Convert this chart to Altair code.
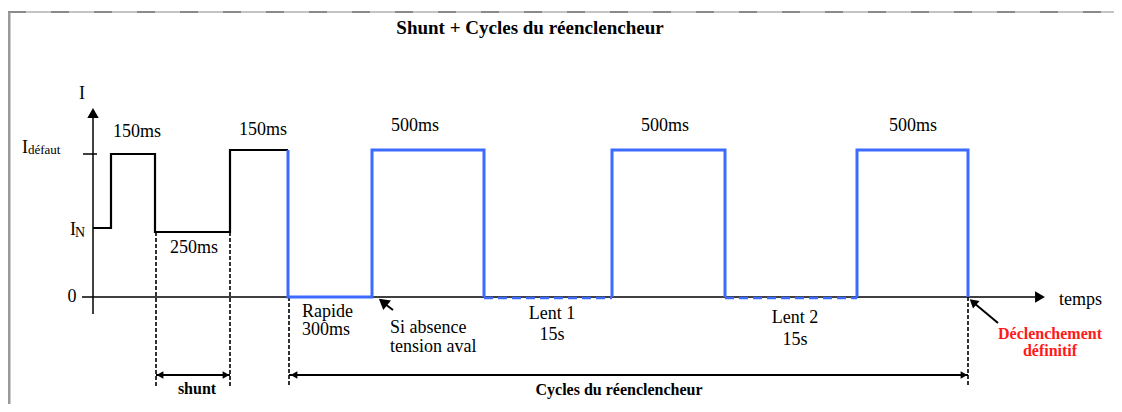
import altair as alt
import pandas as pd

# ---- schematic data (time units along x, current level along y; origin = axes crossing) ----
# black part: normal current, first shunt fault, shunt pause, second fault
black_t = [0, 18, 18, 62, 62, 137, 137, 195]
black_i = [69, 69, 143, 143, 65, 65, 147, 147]
# blue part: recloser cycles (three solid segments)
blue_seg = ["A"] * 6 + ["B"] * 4 + ["C"] * 4
blue_t = [195, 195, 279, 279, 391, 391, 519, 519, 632, 632, 764, 764, 875, 875]
blue_i = [147, 0, 0, 147, 147, 0, 0, 147, 147, 0, 0, 147, 147, 0]
# blue dashed "slow" waits
slow_t0 = [391, 632]
slow_t1 = [519, 764]

# axes
axis_x0 = [0, -11, -10]
axis_y0 = [-17, 0, 143]
axis_x1 = [0, 942, 4]
axis_y1 = [185, 0, 143]

# dotted verticals
vline_t = [63, 137, 196, 875]
vline_top = [65, 65, 0, 0]
vline_bot = [-89, -89, -90, -90]

# arrow shafts
shaft_x0 = [196, 63, 300, 905]
shaft_y0 = [-78, -78, -13, -26]
shaft_x1 = [875, 137, 292, 881]
shaft_y1 = [-78, -78, -7, -6]

# arrow heads
head_x = [0, 947, 201, 871, 67, 133, 290, 880]
head_y = [184, 0, -78, -78, -78, -78, -5, -5]
head_angle = [0, 90, 270, 90, 270, 90, 309, 311]
head_size = [130, 130, 60, 60, 60, 60, 150, 100]

# labels
center_text = ["I", "150ms", "150ms", "250ms", "500ms", "500ms", "500ms",
               "Lent 1", "15s", "Lent 2", "15s", "0"]
center_x = [-11, 44, 170, 101, 322, 572, 820, 459, 459, 702, 702, -21]
center_y = [198, 160, 162, 44, 166, 166, 166, -22, -43, -26, -48, -5]

left_text = ["Rapide", "300ms", "Si absence", "tension aval", "temps", "I", "I"]
left_x = [209, 209, 297, 297, 966, -71, -23]
left_y = [-20, -38, -36, -55, -8, 144, 62]

sub_text = ["défaut", "N"]
sub_x = [-65, -18]
sub_y = [143, 60]
sub_size = [13, 14]

bold_text = ["shunt", "Cycles du réenclencheur"]
bold_x = [104, 526]
bold_y = [-97, -98]

red_text = ["Déclenchement", "définitif"]
red_x = [957, 957]
red_y = [-42, -59]

title_text = ["Shunt + Cycles du réenclencheur"]
title_x = [437]
title_y = [263]

# frame
frame_top_y = 285
frame_left_x = -84

# ---- build ----
W, H = 1106, 396
xs = alt.Scale(domain=[-85, 1021], nice=False, zero=False)
ys = alt.Scale(domain=[-107, 289], nice=False, zero=False)
FONT = "Liberation Serif"
BLUE = "#3D6BFF"


def X(f="x"):
    return alt.X(f"{f}:Q", scale=xs, axis=None)


def Y(f="y"):
    return alt.Y(f"{f}:Q", scale=ys, axis=None)


frame_df = pd.DataFrame({
    "x": [-85, frame_left_x], "y": [frame_top_y, frame_top_y],
    "x2": [1029, frame_left_x], "y2": [frame_top_y, -115],
})
frame_base = alt.Chart(frame_df).mark_rule(color="#c4c4c4", strokeWidth=2).encode(
    x=X(), y=Y(), x2="x2:Q", y2="y2:Q")
frame_top_dash = alt.Chart(frame_df.iloc[[0]]).mark_rule(
    color="#8a8a8a", strokeWidth=2, strokeDash=[18, 25]).encode(
    x=X(), y=Y(), x2="x2:Q", y2="y2:Q")
frame_left = alt.Chart(frame_df.iloc[[1]]).mark_rule(
    color="#9a9a9a", strokeWidth=3).encode(x=X(), y=Y(), x2="x2:Q", y2="y2:Q")

axes_df = pd.DataFrame({"x": axis_x0, "y": axis_y0, "x2": axis_x1, "y2": axis_y1})
axes = alt.Chart(axes_df).mark_rule(color="black", strokeWidth=1.5).encode(
    x=X(), y=Y(), x2="x2:Q", y2="y2:Q")

black_df = pd.DataFrame({"x": black_t, "y": black_i, "o": list(range(len(black_t)))})
black = alt.Chart(black_df).mark_line(color="black", strokeWidth=2.2, strokeJoin="miter").encode(
    x=X(), y=Y(), order="o:Q")

blue_df = pd.DataFrame({"x": blue_t, "y": blue_i, "seg": blue_seg,
                        "o": list(range(len(blue_t)))})
blue = alt.Chart(blue_df).mark_line(color=BLUE, strokeWidth=3, strokeJoin="miter").encode(
    x=X(), y=Y(), detail="seg:N", order="o:Q")

slow_df = pd.DataFrame({"x": slow_t0, "x2": slow_t1, "y": [-1] * len(slow_t0)})
slow = alt.Chart(slow_df).mark_rule(color=BLUE, strokeWidth=2.5, strokeDash=[9, 5]).encode(
    x=X(), x2="x2:Q", y=Y())

vl_df = pd.DataFrame({"x": vline_t, "y": vline_top, "y2": vline_bot})
vlines = alt.Chart(vl_df).mark_rule(color="black", strokeWidth=1.6, strokeDash=[4, 2]).encode(
    x=X(), y=Y(), y2="y2:Q")

shaft_df = pd.DataFrame({"x": shaft_x0, "y": shaft_y0, "x2": shaft_x1, "y2": shaft_y1})
shafts = alt.Chart(shaft_df).mark_rule(color="black", strokeWidth=2).encode(
    x=X(), y=Y(), x2="x2:Q", y2="y2:Q")

head_df = pd.DataFrame({"x": head_x, "y": head_y, "a": head_angle, "s": head_size})
heads = alt.Chart(head_df).mark_point(shape="triangle-up", filled=True, color="black",
                                      opacity=1).encode(
    x=X(), y=Y(), angle=alt.Angle("a:Q", scale=None), size=alt.Size("s:Q", scale=None))


def text_layer(texts, xv, yv, size, align="center", weight="normal", color="black"):
    df = pd.DataFrame({"x": xv, "y": yv, "t": texts})
    return alt.Chart(df).mark_text(font=FONT, fontSize=size, align=align,
                                   baseline="alphabetic", fontWeight=weight,
                                   color=color).encode(x=X(), y=Y(), text="t:N")


t_center = text_layer(center_text, center_x, center_y, 18)
t_left = text_layer(left_text, left_x, left_y, 18, align="left")
t_sub = alt.Chart(pd.DataFrame({"x": sub_x, "y": sub_y, "t": sub_text, "s": sub_size})).mark_text(
    font=FONT, align="left", baseline="alphabetic", color="black").encode(
    x=X(), y=Y(), text="t:N", size=alt.Size("s:Q", scale=None))
t_bold = text_layer(bold_text, bold_x, bold_y, 16, weight="bold")
t_red = text_layer(red_text, red_x, red_y, 16, weight="bold", color="#FF1A1A")
t_title = text_layer(title_text, title_x, title_y, 19, weight="bold")

chart = alt.layer(
    frame_base, frame_top_dash, frame_left,
    vlines, axes, slow, black, blue, shafts, heads,
    t_center, t_left, t_sub, t_bold, t_red, t_title,
).properties(
    width=W, height=H, padding=0,
    autosize=alt.AutoSizeParams(type="none"),
    background="white",
).configure_view(stroke=None)

chart.save("out.html", embed_options={"renderer": "svg", "actions": False})
